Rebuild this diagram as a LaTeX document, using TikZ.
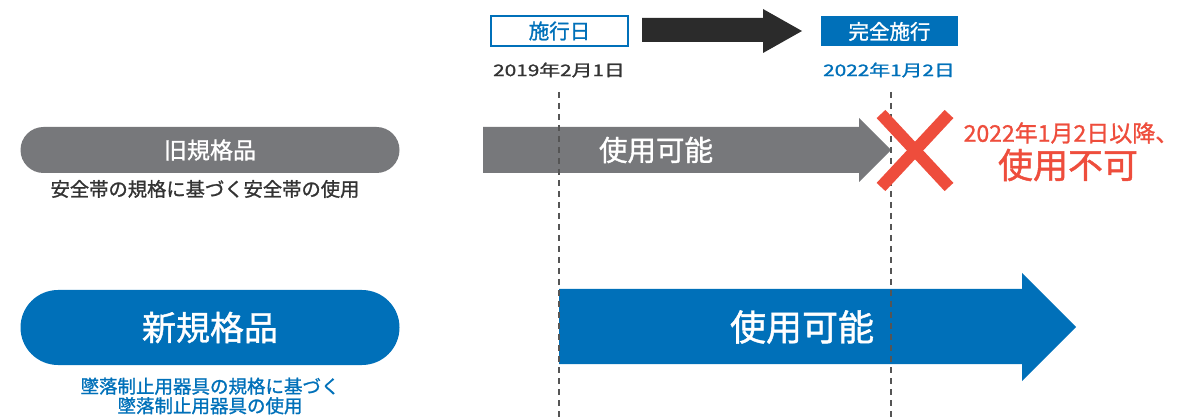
\documentclass[tikz,border=0pt]{standalone}
\usepackage{fontspec}
\usepackage{graphicx}
\setmainfont{Noto Sans CJK JP}[FakeBold=1.2]
\definecolor{cblue}{HTML}{0070B9}
\definecolor{cgray}{HTML}{77787B}
\definecolor{cred}{HTML}{EE4D3C}
\definecolor{cblack}{HTML}{2B2B2B}
\definecolor{ctext}{HTML}{333333}
\definecolor{cdash}{HTML}{555555}
\newcommand{\fs}[1]{\fontsize{#1}{#1}\selectfont}
\tikzset{
  txt/.style={inner sep=0pt, outer sep=0pt},
  pill/.style={txt, minimum width=379pt, text=white},
  datebox/.style={txt, minimum width=137pt, minimum height=30pt},
  dashline/.style={cdash, line width=1.5pt, dash pattern=on 6pt off 5pt},
  cross/.style={cred, line width=12pt}
}
\begin{document}
\begin{tikzpicture}[x=1pt,y=-1pt]
\useasboundingbox (0,0) rectangle (1182,419);

% top timeline
\node[datebox, draw=cblue, line width=1.3pt, text=cblue, font=\fs{20.5}] (start) at (559.5,31) {施行日};
\node[datebox, fill=cblue, text=white, font=\fs{20.5}] (full) at (889.5,31.5) {完全施行};
\fill[cblack] (642,18) -- (763,18) -- (763,9) -- (802,31) -- (763,53) -- (763,42) -- (642,42) -- cycle;
\node[txt, text=ctext, font=\fs{16}] (d1) at (559,70) {\scalebox{1.3}[1]{2019年2月1日}};
\node[txt, text=cblue, font=\fs{16}] (d2) at (889,70) {\scalebox{1.3}[1]{2022年1月2日}};

% old standard
\node[pill, fill=cgray, minimum height=46pt, rounded corners=23pt, font=\fs{23}] (old) at (210,150) {旧規格品};
\node[txt, text=ctext, font=\fs{19.3}] (oldsub) at (205,189) {安全帯の規格に基づく安全帯の使用};
\fill[cgray] (483,127) -- (859,127) -- (859,118) -- (891,150) -- (859,182) -- (859,173) -- (483,173) -- cycle;
\node[txt, text=white, font=\fs{28.5}] (olduse) at (656,150) {使用可能};

% new standard
\node[pill, fill=cblue, minimum height=75pt, rounded corners=37.5pt, font=\fs{34}] (new) at (210,327.5) {新規格品};
\node[txt, text=cblue, font=\fs{18.5}, align=center] (newsub) at (210,396) {墜落制止用器具の規格に基づく\\[1pt]墜落制止用器具の使用};
\fill[cblue] (559,289) -- (1022,289) -- (1022,273) -- (1076,327) -- (1022,381) -- (1022,364) -- (559,364) -- cycle;
\node[txt, text=white, font=\fs{36}] (newuse) at (802,327) {使用可能};

% dashed guides
\coordinate (g1t) at (559,92); \coordinate (g1b) at (559,419);
\coordinate (g2t) at (891,92); \coordinate (g2b) at (891,419);
\draw[dashline] (g1t) -- (g1b);
\draw[dashline] (g2t) -- (g2b);

% cross
\draw[cross] (881,114) -- (949,187);
\draw[cross] (949,114) -- (881,187);
\node[txt, text=cred, font=\fs{23}] (ng1) at (1071,133) {2022年1月2日以降、};
\node[txt, text=cred, font=\fs{35}] (ng2) at (1068,165) {使用不可};
\end{tikzpicture}
\end{document}
